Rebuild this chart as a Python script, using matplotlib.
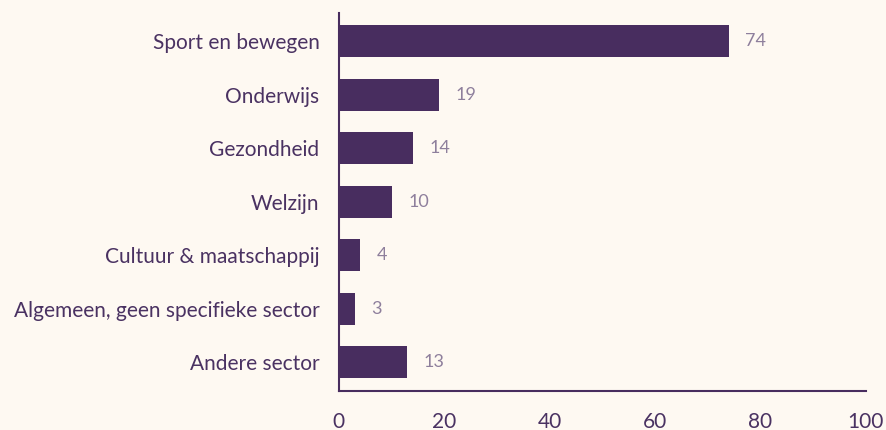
import matplotlib
matplotlib.use("Agg")
import matplotlib.pyplot as plt

categories = ["Sport en bewegen", "Onderwijs", "Gezondheid", "Welzijn",
              "Cultuur & maatschappij", "Algemeen, geen specifieke sector",
              "Andere sector"]
values = [74, 19, 14, 10, 4, 3, 13]
xticks = [0, 20, 40, 60, 80, 100]

bg = "#fef9f2"
purple = "#482d5f"
text_col = "#4a3262"
val_col = "#8e7f9c"

plt.rcParams['font.family'] = ['Lato', 'DejaVu Sans']

fig = plt.figure(figsize=(8.87, 4.30), dpi=100, facecolor=bg)
ax = fig.add_axes([0.382, 0.091, 0.594, 0.879], facecolor=bg)

y = list(range(len(categories)))
ax.barh(y, values, height=0.6, color=purple)
for yi, v in zip(y, values):
    ax.annotate(str(v), (v, yi), xytext=(12, 0), textcoords="offset points",
                va="center", ha="left", fontsize=13, color=val_col,
                fontweight="normal")

ax.set_yticks(y)
ax.set_yticklabels(categories, fontsize=15, color=text_col)
ax.set_ylim(len(categories) - 0.46, -0.53)
ax.set_xlim(0, 100)
ax.set_xticks(xticks)
ax.set_xticklabels([str(t) for t in xticks], fontsize=15, color=text_col)
ax.tick_params(axis="both", length=0)
ax.tick_params(axis="y", pad=14)
ax.tick_params(axis="x", pad=15)
for s in ["top", "right"]:
    ax.spines[s].set_visible(False)
for s in ["left", "bottom"]:
    ax.spines[s].set_color(purple)
    ax.spines[s].set_linewidth(1.5)

fig.savefig("out.png", dpi=100, facecolor=bg)
